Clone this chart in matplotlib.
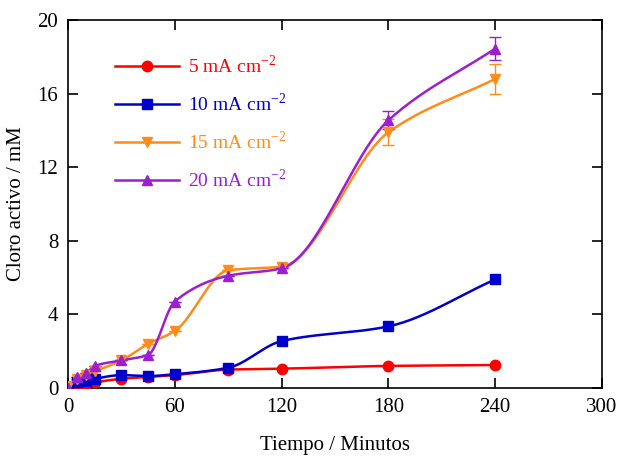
import numpy as np
import matplotlib.pyplot as plt

plt.rcParams['font.family'] = ['Liberation Serif', 'DejaVu Serif']
plt.rcParams['mathtext.fontset'] = 'custom'
plt.rcParams['mathtext.rm'] = 'Liberation Serif'

# tiempo (min)
t = [0, 5, 10, 15, 30, 45, 60, 90, 120, 180, 240]

# cloro activo (mM) para cada densidad de corriente
c5 = [0.0, 0.1, 0.2, 0.3, 0.5, 0.6, 0.7, 1.0, 1.05, 1.2, 1.25]
c10 = [0.0, 0.3, 0.4, 0.5, 0.7, 0.65, 0.75, 1.1, 2.55, 3.35, 5.9]
c15 = [0.1, 0.5, 0.7, 0.9, 1.5, 2.4, 3.1, 6.4, 6.6, 13.9, 16.8]
c20 = [0.0, 0.6, 0.8, 1.2, 1.5, 1.8, 4.7, 6.1, 6.5, 14.55, 18.45]

# barras de error (solo ultimos puntos)
e15 = [0, 0, 0, 0, 0, 0, 0, 0, 0, 0.7, 0.8]
e20 = [0, 0, 0, 0, 0, 0, 0, 0, 0, 0.5, 0.6]

labels = ['5 mA cm$^{\\mathrm{-2}}$', '10 mA cm$^{\\mathrm{-2}}$',
          '15 mA cm$^{\\mathrm{-2}}$', '20 mA cm$^{\\mathrm{-2}}$']
colors = ['#ff0000', '#0000cc', '#ff8c1a', '#9b1fd1']
markers = ['o', 's', 'v', '^']


def smooth(x, y, n=30):
    # curva suave monotona (tipo PCHIP) que pasa por los puntos
    x = np.asarray(x, float)
    y = np.asarray(y, float)
    h = np.diff(x)
    d = np.diff(y) / h
    m = np.zeros_like(y)
    for i in range(1, len(x) - 1):
        if d[i - 1] * d[i] > 0:
            w1 = 2 * h[i] + h[i - 1]
            w2 = h[i] + 2 * h[i - 1]
            m[i] = (w1 + w2) / (w1 / d[i - 1] + w2 / d[i])
    m[0] = d[0]
    m[-1] = d[-1]
    xs, ys = [], []
    for i in range(len(x) - 1):
        s = np.linspace(0, 1, n)
        h00 = 2 * s**3 - 3 * s**2 + 1
        h10 = s**3 - 2 * s**2 + s
        h01 = -2 * s**3 + 3 * s**2
        h11 = s**3 - s**2
        xs.append(x[i] + s * h[i])
        ys.append(h00 * y[i] + h10 * h[i] * m[i] + h01 * y[i + 1] + h11 * h[i] * m[i + 1])
    return np.concatenate(xs), np.concatenate(ys)


fig = plt.figure(figsize=(6.19, 4.59), dpi=100)
ax = fig.add_axes([68 / 619, 71 / 459, 534 / 619, 368 / 459])

series = [c5, c10, c15, c20]
errs = [None, None, e15, e20]
handles = []
for y, e, col, mk, lab in zip(series, errs, colors, markers, labels):
    xs, ys = smooth(t, y)
    ax.plot(xs, ys, color=col, lw=1.8, zorder=2)
    if e is not None:
        ax.errorbar(t, y, yerr=e, fmt='none', ecolor=col, elinewidth=1.0,
                    capsize=4, capthick=1.0, zorder=2)
    ax.plot(t, y, ls='none', marker=mk, color=col, ms=7.5, zorder=3)
    h, = ax.plot([], [], color=col, lw=1.8, marker=mk, ms=7.5, label=lab)
    handles.append(h)

leg = ax.legend(handles=handles, loc='upper left', bbox_to_anchor=(0.055, 0.955),
                frameon=False, fontsize=14, handlelength=3.3, handletextpad=0.45,
                labelspacing=0.8, markerfirst=True)
for txt, col in zip(leg.get_texts(), colors):
    txt.set_color(col)

ax.set_xlim(0, 300)
ax.set_ylim(0, 20)
ax.set_xticks([0, 60, 120, 180, 240, 300])
ax.set_yticks([0, 4, 8, 12, 16, 20])
ax.tick_params(direction='in', top=True, right=True, length=7, width=1.2,
               labelsize=15, pad=7)
for sp in ax.spines.values():
    sp.set_linewidth(1.2)

ax.set_xlabel('Tiempo / Minutos', fontsize=15, labelpad=14)
ax.set_ylabel('Cloro activo / mM', fontsize=15, labelpad=8)

fig.savefig('out.png', dpi=100)
